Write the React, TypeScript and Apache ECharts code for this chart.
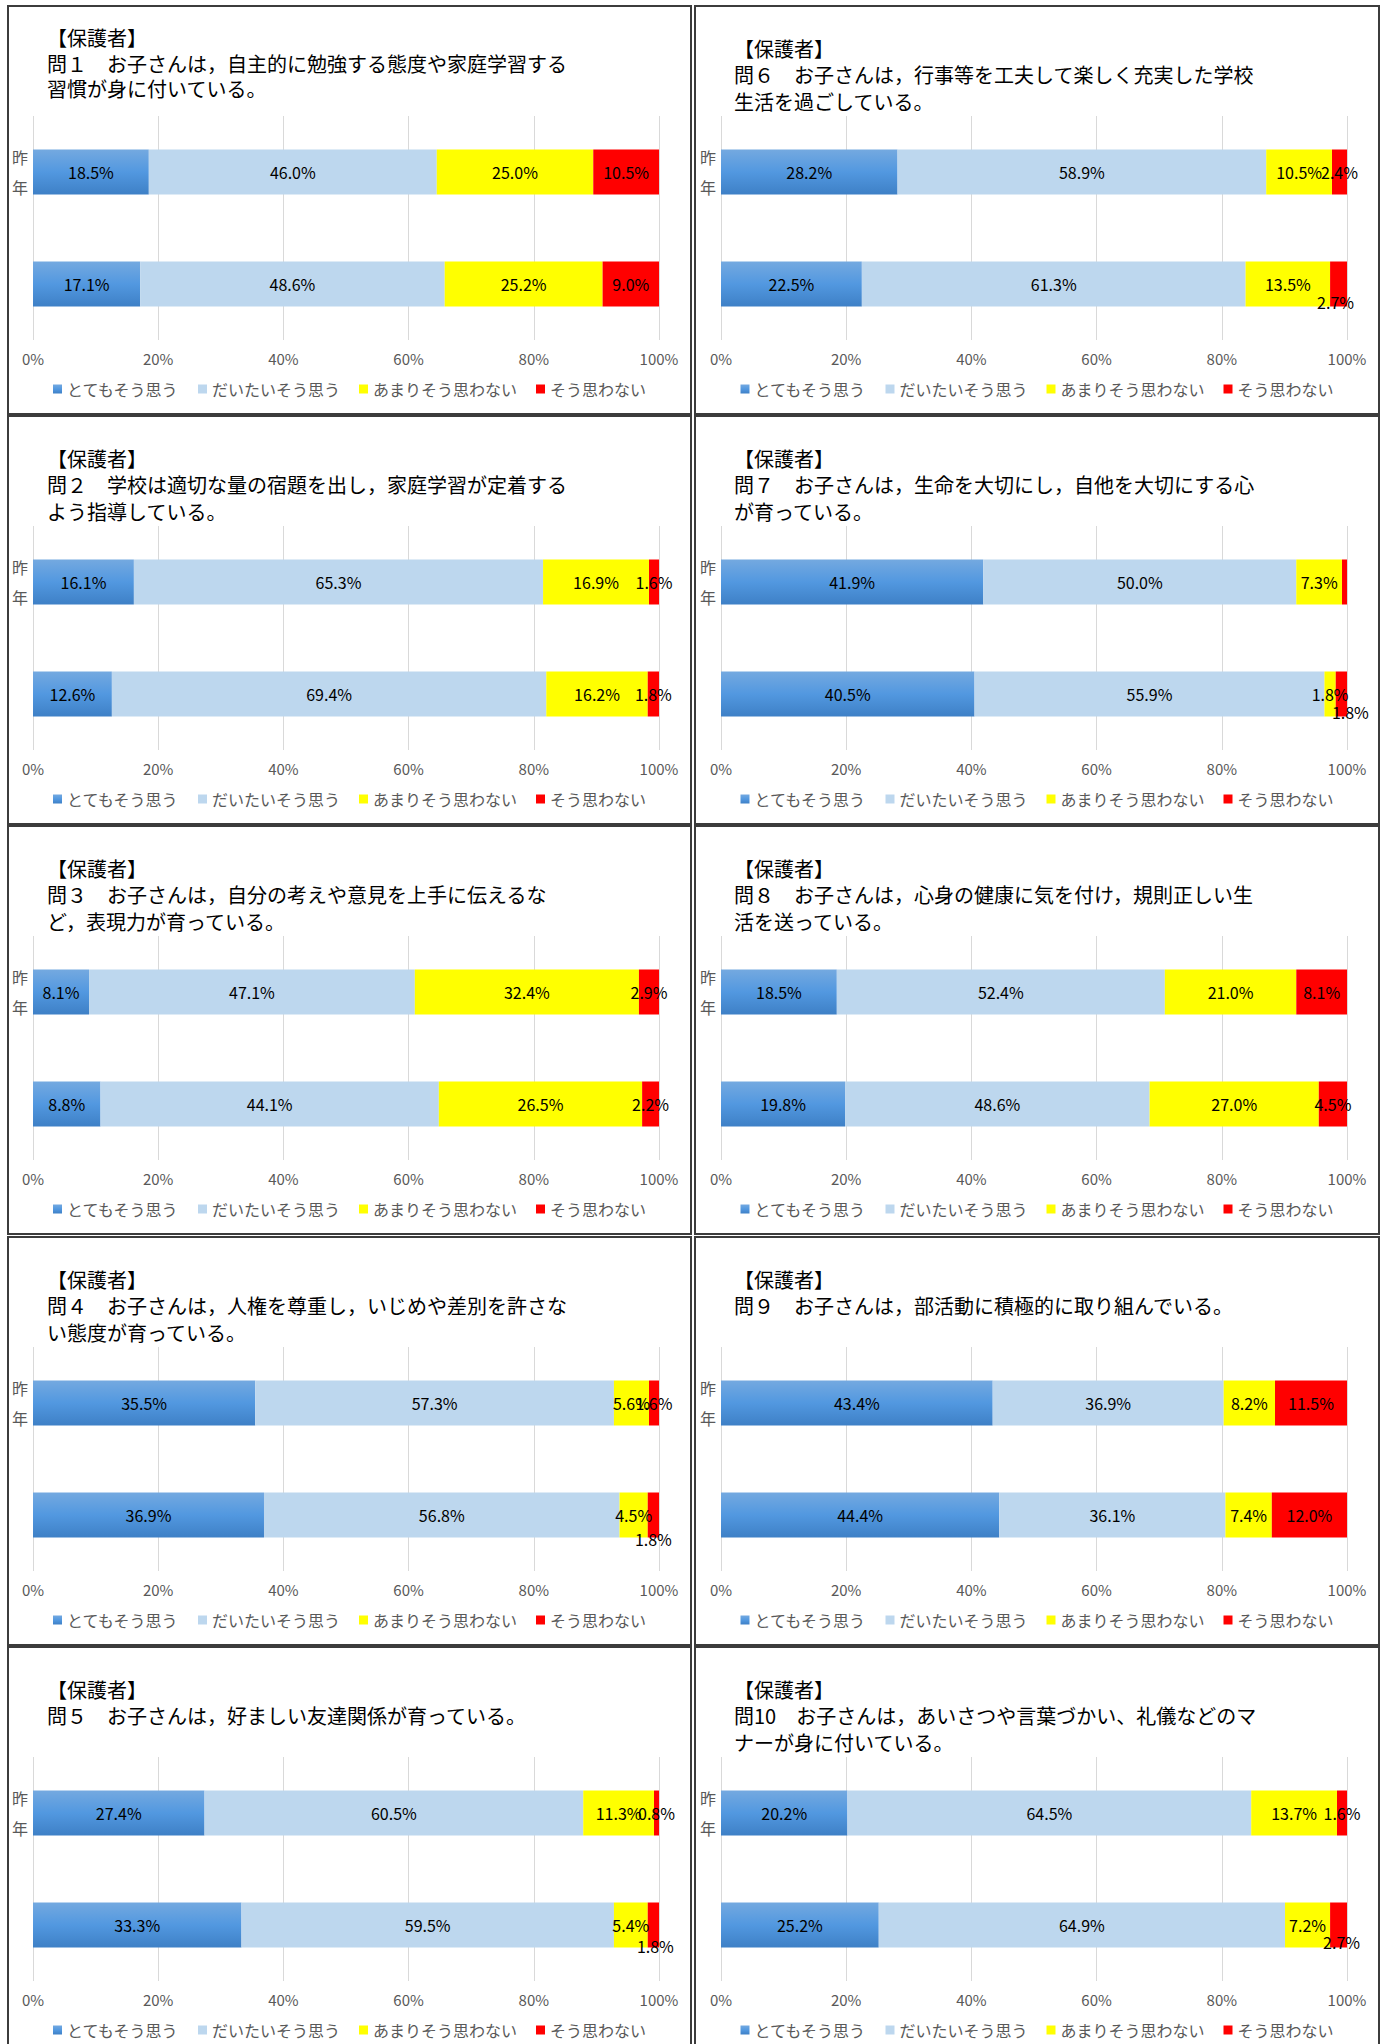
import React, { useEffect, useRef } from 'react';
import * as echarts from 'echarts';

// ---------- data ----------
const HEADER = '【保護者】';
const SERIES_NAMES = ['とてもそう思う', 'だいたいそう思う', 'あまりそう思わない', 'そう思わない'];
const CATEGORIES = ['', '昨年']; // bottom bar = this year, top bar = last year
const X_TICK_LABELS = ['0%', '20%', '40%', '60%', '80%', '100%'];

const Q1_TEXT = ['問１　お子さんは，自主的に勉強する態度や家庭学習する', '習慣が身に付いている。'];
const Q1_LAST = [18.5, 46.0, 25.0, 10.5];
const Q1_NOW = [17.1, 48.6, 25.2, 9.0];

const Q2_TEXT = ['問２　学校は適切な量の宿題を出し，家庭学習が定着する', 'よう指導している。'];
const Q2_LAST = [16.1, 65.3, 16.9, 1.6];
const Q2_NOW = [12.6, 69.4, 16.2, 1.8];

const Q3_TEXT = ['問３　お子さんは，自分の考えや意見を上手に伝えるな', 'ど，表現力が育っている。'];
const Q3_LAST = [8.1, 47.1, 32.4, 2.9];
const Q3_NOW = [8.8, 44.1, 26.5, 2.2];

const Q4_TEXT = ['問４　お子さんは，人権を尊重し，いじめや差別を許さな', 'い態度が育っている。'];
const Q4_LAST = [35.5, 57.3, 5.6, 1.6];
const Q4_NOW = [36.9, 56.8, 4.5, 1.8];

const Q5_TEXT = ['問５　お子さんは，好ましい友達関係が育っている。'];
const Q5_LAST = [27.4, 60.5, 11.3, 0.8];
const Q5_NOW = [33.3, 59.5, 5.4, 1.8];

const Q6_TEXT = ['問６　お子さんは，行事等を工夫して楽しく充実した学校', '生活を過ごしている。'];
const Q6_LAST = [28.2, 58.9, 10.5, 2.4];
const Q6_NOW = [22.5, 61.3, 13.5, 2.7];

const Q7_TEXT = ['問７　お子さんは，生命を大切にし，自他を大切にする心', 'が育っている。'];
const Q7_LAST = [41.9, 50.0, 7.3, 0.8];
const Q7_NOW = [40.5, 55.9, 1.8, 1.8];

const Q8_TEXT = ['問８　お子さんは，心身の健康に気を付け，規則正しい生', '活を送っている。'];
const Q8_LAST = [18.5, 52.4, 21.0, 8.1];
const Q8_NOW = [19.8, 48.6, 27.0, 4.5];

const Q9_TEXT = ['問９　お子さんは，部活動に積極的に取り組んでいる。'];
const Q9_LAST = [43.4, 36.9, 8.2, 11.5];
const Q9_NOW = [44.4, 36.1, 7.4, 12.0];

const Q10_TEXT = ['問10　お子さんは，あいさつや言葉づかい、礼儀などのマ', 'ナーが身に付いている。'];
const Q10_LAST = [20.2, 64.5, 13.7, 1.6];
const Q10_NOW = [25.2, 64.9, 7.2, 2.7];

// ---------- layout / style ----------
const FONT = '"Noto Sans CJK JP", "Noto Sans", sans-serif';
const BLUE = {
  type: 'linear', x: 0, y: 0, x2: 0, y2: 1,
  colorStops: [
    { offset: 0, color: '#74a9e0' },
    { offset: 0.5, color: '#5298e0' },
    { offset: 1, color: '#3e80c6' },
  ],
};
const COLORS: any[] = [BLUE, '#bdd7ee', '#ffff00', '#ff0000'];

const COL_X = [7, 694];
const COL_W = [685, 686];
const ROW_Y = [5, 415, 825, 1236, 1646];
const PANEL_H = 410;

// label tweaks: key `${panel}-${row}-${seriesIndex}`
const LABEL_OFFSETS: Record<string, number[]> = {
  'Q4-now-3': [0, 24],
  'Q5-now-3': [2, 21],
  'Q6-now-3': [-3, 18],
  'Q7-now-3': [9, 18],
  'Q10-now-3': [3, 17],
};
const LABEL_HIDDEN: Record<string, boolean> = { 'Q7-last-3': true };

const PANELS = [
  { key: 'Q1', text: Q1_TEXT, last: Q1_LAST, now: Q1_NOW, col: 0, row: 0, titleTop: 15, lh: 25.5 },
  { key: 'Q2', text: Q2_TEXT, last: Q2_LAST, now: Q2_NOW, col: 0, row: 1, titleTop: 25, lh: 26.5 },
  { key: 'Q3', text: Q3_TEXT, last: Q3_LAST, now: Q3_NOW, col: 0, row: 2, titleTop: 25, lh: 26.5 },
  { key: 'Q4', text: Q4_TEXT, last: Q4_LAST, now: Q4_NOW, col: 0, row: 3, titleTop: 25, lh: 26.5 },
  { key: 'Q5', text: Q5_TEXT, last: Q5_LAST, now: Q5_NOW, col: 0, row: 4, titleTop: 25, lh: 26.5 },
  { key: 'Q6', text: Q6_TEXT, last: Q6_LAST, now: Q6_NOW, col: 1, row: 0, titleTop: 25, lh: 26.5 },
  { key: 'Q7', text: Q7_TEXT, last: Q7_LAST, now: Q7_NOW, col: 1, row: 1, titleTop: 25, lh: 26.5 },
  { key: 'Q8', text: Q8_TEXT, last: Q8_LAST, now: Q8_NOW, col: 1, row: 2, titleTop: 25, lh: 26.5 },
  { key: 'Q9', text: Q9_TEXT, last: Q9_LAST, now: Q9_NOW, col: 1, row: 3, titleTop: 25, lh: 26.5 },
  { key: 'Q10', text: Q10_TEXT, last: Q10_LAST, now: Q10_NOW, col: 1, row: 4, titleTop: 25, lh: 26.5 },
];

function normalize(vals: number[]) {
  const s = vals.reduce((a, b) => a + b, 0);
  return vals.map((v) => (v / s) * 100);
}

function item(panelKey: string, row: string, i: number, raw: number, norm: number) {
  const k = `${panelKey}-${row}-${i}`;
  const d: any = { value: norm, raw };
  if (LABEL_HIDDEN[k]) d.label = { show: false };
  else if (LABEL_OFFSETS[k]) d.label = { offset: LABEL_OFFSETS[k] };
  return d;
}

function buildOption(p: any) {
  const nNow = normalize(p.now);
  const nLast = normalize(p.last);
  const gridLeft = p.col === 0 ? 26 : 27;
  return {
    animation: false,
    backgroundColor: '#ffffff',
    textStyle: { fontFamily: FONT },
    title: {
      text: [HEADER, ...p.text].join('\n'),
      left: 35,
      top: p.titleTop,
      textStyle: { fontSize: 20, lineHeight: p.lh, fontWeight: 'normal', color: '#000', fontFamily: FONT },
    },
    legend: {
      data: SERIES_NAMES,
      top: 371,
      left: 'center',
      icon: 'rect',
      itemWidth: 9,
      itemHeight: 9,
      itemGap: 19,
      textStyle: { fontSize: 16, color: '#595959', fontFamily: FONT },
    },
    grid: { left: gridLeft, top: 111, width: 626, height: 224, containLabel: false },
    xAxis: {
      type: 'value',
      min: 0,
      max: 100,
      interval: 20,
      axisLine: { show: false },
      axisTick: { show: false },
      axisLabel: {
        color: '#595959',
        fontSize: 15,
        margin: 11,
        fontFamily: FONT,
        formatter: (v: number) => X_TICK_LABELS[Math.round(v / 20)],
      },
      splitLine: { lineStyle: { color: '#d9d9d9', width: 1 } },
    },
    yAxis: {
      type: 'category',
      data: CATEGORIES,
      axisLine: { show: false },
      axisTick: { show: false },
      axisLabel: {
        color: '#595959',
        fontSize: 16,
        lineHeight: 30,
        margin: 5,
        fontFamily: FONT,
        formatter: (v: string) => v.split('').join('\n'),
      },
    },
    series: SERIES_NAMES.map((name, i) => ({
      name,
      type: 'bar',
      stack: 'total',
      barWidth: 45,
      itemStyle: { color: COLORS[i] },
      label: {
        show: true,
        position: 'inside',
        color: '#000',
        fontSize: 16,
        fontFamily: FONT,
        formatter: (pp: any) => pp.data.raw.toFixed(1) + '%',
      },
      data: [item(p.key, 'now', i, p.now[i], nNow[i]), item(p.key, 'last', i, p.last[i], nLast[i])],
    })),
  };
}

function Panel({ p }: { p: any }) {
  const ref = useRef<HTMLDivElement>(null);
  useEffect(() => {
    if (!ref.current) return;
    const chart = echarts.init(ref.current, undefined, { renderer: 'svg' });
    chart.setOption(buildOption(p));
    return () => chart.dispose();
  }, [p]);
  const left = COL_X[p.col];
  const top = ROW_Y[p.row];
  const width = COL_W[p.col];
  return (
    <>
      <div ref={ref} style={{ position: 'absolute', left, top, width, height: PANEL_H }} />
      <div
        style={{
          position: 'absolute',
          left,
          top,
          width,
          height: PANEL_H,
          boxSizing: 'border-box',
          border: '2px solid #3c3c3c',
          pointerEvents: 'none',
        }}
      />
    </>
  );
}

export default function App() {
  return (
    <div
      style={{
        position: 'absolute',
        left: 0,
        top: 0,
        width: 1391,
        height: 2044,
        overflow: 'hidden',
        background: '#ffffff',
      }}
    >
      {PANELS.map((p) => (
        <Panel key={p.key} p={p} />
      ))}
    </div>
  );
}
